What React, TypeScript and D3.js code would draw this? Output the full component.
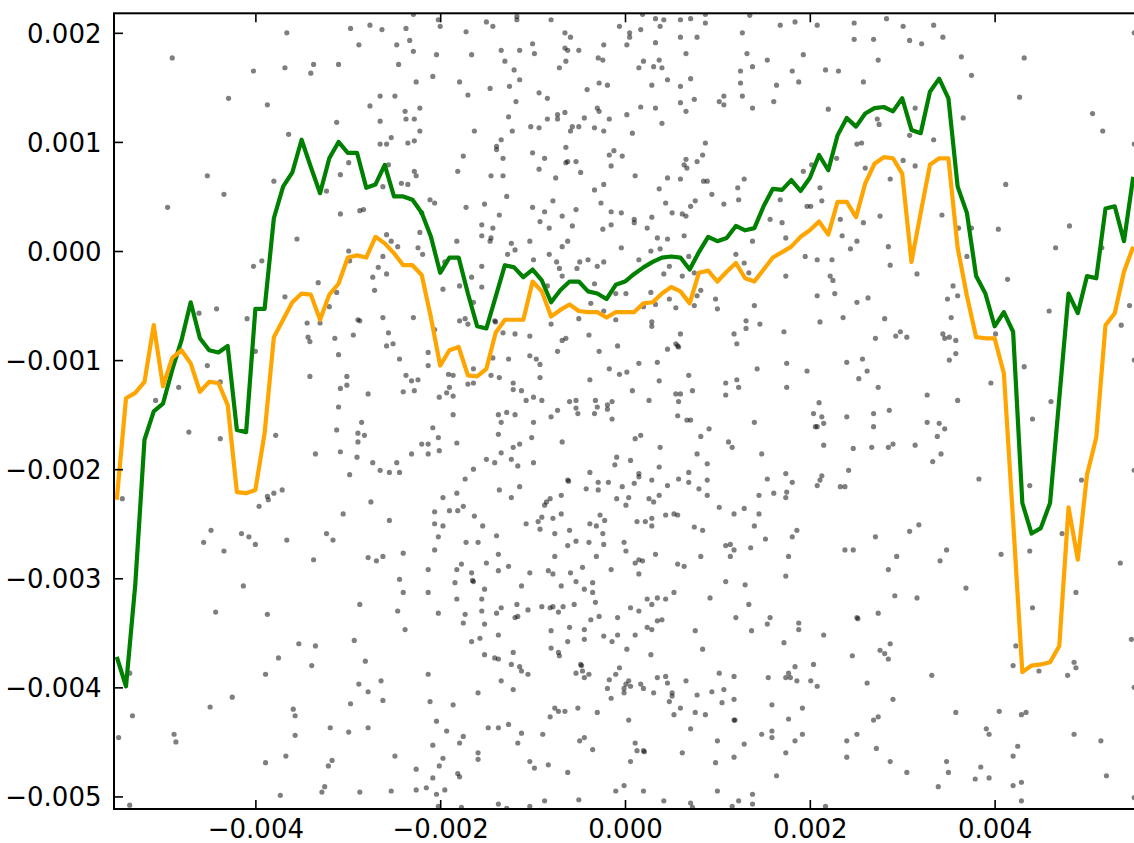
import React, { useEffect, useRef } from 'react';
import * as d3 from 'd3';

// all values below are in units of 1e-3
const gridX = [
  -5.5, -5.4, -5.3, -5.2, -5.1, -5.0, -4.9, -4.8, -4.7, -4.6,
  -4.5, -4.4, -4.3, -4.2, -4.1, -4.0, -3.9, -3.8, -3.7, -3.6,
  -3.5, -3.4, -3.3, -3.2, -3.1, -3.0, -2.9, -2.8, -2.7, -2.6,
  -2.5, -2.4, -2.3, -2.2, -2.1, -2.0, -1.9, -1.8, -1.7, -1.6,
  -1.5, -1.4, -1.3, -1.2, -1.1, -1.0, -0.9, -0.8, -0.7, -0.6,
  -0.5, -0.4, -0.3, -0.2, -0.1, 0.0, 0.1, 0.2, 0.3, 0.4,
  0.5, 0.6, 0.7, 0.8, 0.9, 1.0, 1.1, 1.2, 1.3, 1.4,
  1.5, 1.6, 1.7, 1.8, 1.9, 2.0, 2.1, 2.2, 2.3, 2.4,
  2.5, 2.6, 2.7, 2.8, 2.9, 3.0, 3.1, 3.2, 3.3, 3.4,
  3.5, 3.6, 3.7, 3.8, 3.9, 4.0, 4.1, 4.2, 4.3, 4.4,
  4.5, 4.6, 4.7, 4.8, 4.9, 5.0, 5.1, 5.2, 5.3, 5.4,
  5.5,
];

const greenY = [
  -3.72, -3.99, -3.06, -1.73, -1.47, -1.40, -1.09, -0.82, -0.47, -0.80,
  -0.91, -0.93, -0.87, -1.64, -1.66, -0.53, -0.53, 0.30, 0.59, 0.72,
  1.02, 0.77, 0.53, 0.85, 1.00, 0.90, 0.90, 0.58, 0.61, 0.79,
  0.50, 0.50, 0.47, 0.35, 0.13, -0.20, -0.06, -0.06, -0.39, -0.69,
  -0.71, -0.42, -0.13, -0.15, -0.24, -0.17, -0.27, -0.47, -0.36, -0.28,
  -0.28, -0.37, -0.39, -0.44, -0.31, -0.28, -0.21, -0.15, -0.10, -0.06,
  -0.05, -0.06, -0.17, -0.01, 0.13, 0.09, 0.12, 0.23, 0.19, 0.21,
  0.41, 0.57, 0.56, 0.65, 0.55, 0.67, 0.88, 0.74, 1.06, 1.22,
  1.14, 1.26, 1.31, 1.32, 1.28, 1.40, 1.11, 1.08, 1.46, 1.58,
  1.40, 0.59, 0.35, -0.23, -0.39, -0.69, -0.56, -0.74, -2.31, -2.59,
  -2.54, -2.31, -1.35, -0.39, -0.57, -0.23, -0.25, 0.39, 0.41, 0.09,
  0.68,
];

const orangeY = [
  -2.28, -1.35, -1.30, -1.20, -0.68, -1.24, -0.98, -0.91, -1.03, -1.29,
  -1.20, -1.21, -1.41, -2.21, -2.22, -2.19, -1.67, -0.79, -0.63, -0.47,
  -0.39, -0.40, -0.63, -0.40, -0.30, -0.06, -0.04, -0.06, 0.13, 0.07,
  -0.02, -0.13, -0.13, -0.22, -0.61, -1.05, -0.91, -0.88, -1.14, -1.15,
  -1.08, -0.75, -0.63, -0.63, -0.63, -0.28, -0.37, -0.60, -0.54, -0.49,
  -0.55, -0.56, -0.56, -0.61, -0.56, -0.56, -0.56, -0.48, -0.47, -0.39,
  -0.33, -0.37, -0.48, -0.20, -0.18, -0.28, -0.19, -0.11, -0.25, -0.28,
  -0.17, -0.06, -0.01, 0.04, 0.13, 0.19, 0.27, 0.15, 0.45, 0.45,
  0.31, 0.62, 0.80, 0.86, 0.85, 0.71, -0.10, 0.35, 0.79, 0.85,
  0.85, 0.03, -0.41, -0.79, -0.80, -0.80, -1.12, -2.47, -3.86, -3.80,
  -3.79, -3.77, -3.62, -2.35, -2.83, -2.05, -1.71, -0.68, -0.57, -0.19,
  0.04,
];

const scatter: [number, number][] = [
  // left upper
  [-4.90,1.77],[-3.66,2.00],[-2.97,2.04],[-2.88,1.89],[-4.02,1.65],[-3.68,1.68],[-3.40,1.63],[-3.37,1.71],[-3.10,1.71],[-4.29,1.40],
  [-3.87,1.34],[-3.12,1.18],[-3.64,1.07],[-2.99,0.81],[-3.08,0.70],[-4.52,0.69],[-3.80,0.64],[-4.34,0.52],[-3.23,0.55],[-4.95,0.40],
  [-3.08,0.34],[-2.87,0.37],[-2.83,0.38],[-3.55,0.11],[-2.99,0.00],[-2.98,-0.09],[-4.02,-0.14],[-3.93,-0.09],
  // left middle
  [-3.32,-0.29],[-3.68,-0.42],[-3.12,-0.38],[-3.20,-0.51],[-4.61,-0.57],[-4.42,-0.53],[-4.09,-0.62],[-3.44,-0.66],[-3.30,-0.66],[-2.89,-0.63],
  [-3.43,-0.79],[-3.41,-0.83],[-3.14,-0.80],[-2.94,-0.77],[-3.10,-0.95],[-4.00,-0.92],[-4.52,-1.05],[-4.38,-1.20],[-4.83,-1.25],[-5.08,-1.37],
  [-3.41,-1.15],[-3.01,-1.15],[-3.01,-1.23],[-3.08,-1.26],[-3.10,-1.43],[-4.72,-1.66],[-4.38,-1.72],[-3.78,-1.69],[-3.12,-1.64],[-2.89,-1.67],
  [-2.89,-1.75],[-3.35,-1.86],[-3.08,-1.84],[-2.90,-1.89],[-2.98,-2.05],[-5.44,-2.27],[-3.96,-2.34],[-3.87,-2.25],[-3.86,-2.28],[-3.80,-2.22],
  [-3.71,-2.19],[-3.05,-2.41],[-4.48,-2.56],[-4.15,-2.59],[-4.07,-2.62],[-3.66,-2.65],[-3.23,-2.59],[-3.16,-2.65],
  // left lower
  [-4.56,-2.67],[-4.34,-2.75],[-4.00,-2.69],[-3.37,-2.83],[-4.13,-3.07],[-4.43,-3.31],[-3.87,-3.33],[-2.87,-3.24],[-3.53,-3.60],[-3.35,-3.62],
  [-2.93,-3.57],[-3.75,-3.73],[-3.39,-3.80],[-2.81,-3.76],[-3.89,-3.88],[-5.36,-3.87],[-2.88,-3.97],[-4.25,-4.09],[-4.49,-4.18],[-2.97,-4.15],
  [-3.59,-4.20],[-3.57,-4.26],[-5.33,-4.26],[-5.48,-4.46],[-4.88,-4.43],[-4.86,-4.50],[-3.57,-4.44],[-3.19,-4.37],[-2.99,-4.41],[-2.78,-4.37],
  [-3.67,-4.63],[-3.89,-4.69],[-3.21,-4.72],[-3.17,-4.67],[-3.73,-4.99],[-3.28,-4.96],[-3.25,-4.91],[-2.87,-4.96],[-5.36,-5.08],[-2.78,-2.81],
  [-2.78,-4.04],
  // centre-left upper
  [-2.29,2.17],[-2.02,2.12],[-2.00,2.06],[-1.17,2.12],[-1.17,2.15],[-1.50,2.10],[-1.43,2.06],[-0.80,2.12],[-0.06,2.06],[-2.76,2.07],
  [-2.63,2.03],[-2.37,2.04],[-2.33,1.93],[-2.47,1.89],[-2.29,1.83],[-2.04,1.80],[-1.72,2.01],[-1.66,1.80],[-1.34,1.84],[-1.14,1.84],
  [-1.00,1.90],[-0.98,1.81],[-1.30,1.74],[-0.65,2.00],[-0.59,1.96],[-0.65,1.86],[-0.62,1.84],[-0.50,1.84],[-0.23,1.89],[-0.29,1.77],
  [-0.24,1.75],[-0.64,1.74],[-0.71,1.68],[-2.45,1.71],[-1.20,1.66],[-1.14,1.57],[-1.25,1.51],[-1.46,1.49],[-1.79,1.55],[-2.26,1.55],
  [-2.08,1.60],[-1.70,1.43],[-2.65,1.42],[-2.49,1.42],[-2.76,1.33],[-2.22,1.31],[-2.38,1.28],[-2.37,1.21],[-2.28,1.21],[-2.65,1.19],
  [-2.22,1.10],[-1.63,1.10],[-1.26,1.23],[-1.22,1.10],[-1.18,1.37],[-0.93,1.45],[-0.84,1.40],[-1.02,1.14],[-0.93,1.13],[-0.84,1.21],
  [-0.73,1.25],[-0.73,1.21],[-0.65,1.27],[-0.41,1.48],[-0.28,1.54],[-0.19,1.52],[-0.44,1.22],[-0.30,1.31],[-0.28,1.28],[-0.17,1.21],
  [-0.57,1.14],[-0.50,1.14],[-0.59,1.10],[-0.33,1.13],[-0.23,1.10],[-2.53,1.04],[-2.58,0.98],[-2.65,0.98],[-2.35,0.99],[-2.28,1.01],
  [-1.34,1.02],[-1.39,0.96],[-1.39,0.93],[-1.32,0.85],[-1.75,0.87],[-1.00,0.90],[-0.87,0.85],[-0.64,0.95],[-0.17,0.88],[-0.12,0.92],
  [-0.62,0.82],[-0.64,0.81],[-0.53,0.82],[-0.15,0.78],[-0.93,0.75],[-0.75,0.67],[-0.48,0.72],[-0.23,0.61],[-0.33,0.56],[-1.81,0.73],
  [-1.45,0.69],[-1.32,0.69],[-2.28,0.73],[-2.26,0.69],[-2.42,0.62],[-2.35,0.61],[-2.62,0.59],[-2.56,0.79],[-2.11,0.47],[-2.06,0.44],
  [-2.20,0.35],[-1.72,0.40],[-1.52,0.43],[-1.36,0.33],[-1.28,0.50],[-1.00,0.40],[-0.87,0.36],[-0.78,0.46],[-0.68,0.32],[-0.53,0.38],
  [-0.26,0.44],[-0.15,0.36],[-1.55,0.24],[-1.43,0.21],[-0.92,0.27],[-0.82,0.21],[-0.57,0.23],[-0.24,0.20],[-0.15,0.24],[-2.22,0.17],
  [-2.58,0.15],[-2.53,0.09],[-2.46,0.04],[-2.24,0.03],[-2.19,-0.03],[-2.62,-0.05],[-1.82,0.09],[-1.55,0.14],[-1.45,0.12],[-1.46,0.09],
  [-1.23,0.07],[-1.19,0.01],[-1.27,-0.03],[-1.03,0.09],[-0.82,-0.03],[-0.68,0.04],[-0.62,0.09],[-0.99,-0.08],[-0.74,-0.10],[-0.71,-0.16],
  [-0.52,-0.16],[-0.49,-0.10],[-0.40,-0.08],[-0.30,-0.14],[-0.23,-0.10],[-1.55,-0.14],[-2.67,-0.15],[-1.95,-0.10],
  // centre-left middle
  [-2.73,-0.24],[-2.58,-0.21],[-2.71,-0.36],[-1.66,-0.24],[-1.79,-0.32],[-1.55,-0.33],[-1.97,-0.35],[-1.64,-0.47],[-2.62,-0.61],[-2.29,-0.61],
  [-1.79,-0.64],[-1.73,-0.62],[-1.70,-0.67],[-1.41,-0.64],[-1.40,-0.65],[-2.56,-0.75],[-2.58,-0.87],[-2.51,-0.85],[-2.06,-0.72],[-1.32,-0.75],
  [-1.19,-0.76],[-1.03,-0.78],[-2.87,-0.64],[-2.13,-0.93],[-2.13,-1.05],[-2.44,-0.99],[-1.43,-0.98],[-1.26,-0.99],[-1.03,-0.96],[-0.96,-0.99],
  [-0.92,-1.04],[-0.92,-1.16],[-2.37,-1.14],[-2.31,-1.19],[-2.24,-1.18],[-2.28,-1.28],[-2.40,-1.29],[-2.78,-1.31],[-1.91,-1.13],[-1.86,-1.14],
  [-1.64,-1.08],[-1.70,-1.22],[-1.64,-1.21],[-1.45,-1.14],[-1.36,-1.16],[-1.21,-1.21],[-1.21,-1.27],[-1.12,-1.28],[-2.01,-1.34],[-1.93,-1.30],
  [-1.90,-1.25],[-1.86,-1.33],[-1.07,-1.37],[-0.99,-1.34],[-0.90,-1.37],[-1.86,-1.50],[-1.37,-1.50],[-1.28,-1.48],[-1.19,-1.50],[-1.34,-1.57],
  [-1.37,-1.68],[-0.99,-1.57],[-1.01,-1.71],[-2.85,-1.57],[-2.82,-1.69],[-2.08,-1.62],[-2.02,-1.71],[-2.20,-1.77],[-2.13,-1.77],[-2.31,-1.86],
  [-2.13,-1.86],[-2.01,-1.83],[-1.82,-1.76],[-1.34,-1.85],[-1.21,-1.80],[-1.14,-1.77],[-1.50,-1.91],[-1.41,-1.94],[-1.16,-1.97],[-1.23,-1.91],
  [-0.99,-1.94],[-2.73,-1.94],[-2.47,-1.94],[-2.65,-2.01],[-2.55,-2.03],[-2.44,-2.03],[-1.64,-2.00],[-1.73,-2.09],[-1.82,-2.22],[-1.97,-2.26],
  [-1.36,-2.19],[-1.23,-2.26],[-1.14,-2.16],[-2.75,-2.30],[-2.06,-2.39],[-1.90,-2.38],[-1.81,-2.38],[-1.75,-2.34],[-1.63,-2.43],[-2.55,-2.47],
  [-2.06,-2.50],[-1.97,-2.52],[-1.54,-2.52],[-2.02,-2.62],[-1.39,-2.61],[-1.07,-2.50],[-0.94,-2.48],[-0.90,-2.44],[-0.92,-2.55],[-0.87,-2.33],
  [-0.85,-2.30],[-0.81,-2.27],[-0.78,-2.45],[-0.69,-2.24],[-0.69,-2.41],[-0.60,-2.56],[-0.76,-2.59],[-0.24,-2.59],[-0.31,-2.52],[-0.27,-2.42],
  [-0.22,-2.47],[-0.38,-2.50],[-0.09,-2.27],[-0.42,-2.18],[-0.29,-2.19],[-0.29,-2.12],[-0.18,-2.12],[-0.38,-2.03],[-0.11,-1.96],[-0.09,-1.89],
  [-0.62,-2.10],[-0.61,-2.11],[-0.68,-1.75],[-0.80,-1.52],[-0.73,-1.46],[-0.60,-1.38],[-0.53,-1.37],[-0.51,-1.49],[-0.53,-1.44],[-0.33,-1.49],
  [-0.30,-1.43],[-0.32,-1.37],[-0.19,-1.41],[-0.19,-1.45],[-0.14,-1.38],[-0.14,-1.54],[-0.38,-1.18],[-0.17,-1.08],[-0.06,-1.13],[-0.28,-0.92],
  [-0.08,-0.87],[-0.73,-0.92],[-0.68,-0.82],[-0.64,-0.80],[-0.39,-0.77],[-0.10,-0.63],[-0.50,-0.62],[-0.80,-0.67],[-0.84,-0.32],[-0.68,-0.23],
  [-0.33,-0.30],[-0.10,-0.39],[-0.37,-0.48],[-0.23,-0.55],
  // centre-left lower
  [-1.72,-2.67],[-1.59,-2.67],[-2.06,-2.74],[-2.40,-2.77],[-2.62,-2.80],[-2.69,-2.84],[-2.13,-2.92],[-1.82,-2.92],[-1.77,-2.87],[-1.66,-2.95],
  [-1.50,-2.86],[-1.37,-2.78],[-1.37,-2.93],[-1.26,-2.89],[-1.03,-2.95],[-0.83,-2.93],[-0.78,-2.96],[-0.76,-2.80],[-0.62,-2.70],[-0.53,-2.66],
  [-0.39,-2.67],[-0.31,-2.80],[-0.23,-2.69],[-0.15,-2.92],[-0.59,-2.95],[-0.46,-2.90],[-2.44,-3.01],[-2.40,-3.13],[-2.13,-3.13],[-1.84,-3.04],
  [-1.65,-3.02],[-1.64,-3.03],[-1.52,-3.10],[-1.12,-3.07],[-0.69,-3.07],[-0.53,-3.03],[-0.35,-3.04],[-0.35,-3.13],[-0.44,-3.10],[-0.32,-3.22],
  [-1.82,-3.19],[-1.55,-3.19],[-2.46,-3.30],[-2.02,-3.32],[-1.73,-3.33],[-1.75,-3.41],[-1.55,-3.30],[-1.52,-3.42],[-1.39,-3.32],[-1.34,-3.27],
  [-1.17,-3.24],[-1.19,-3.36],[-1.16,-3.35],[-1.05,-3.29],[-0.90,-3.26],[-0.81,-3.27],[-0.78,-3.26],[-0.72,-3.31],[-0.67,-3.26],[-0.55,-3.24],
  [-0.37,-3.38],[-0.28,-3.35],[-0.08,-3.36],[-2.38,-3.47],[-1.66,-3.58],[-1.57,-3.55],[-1.37,-3.52],[-0.80,-3.48],[-0.60,-3.45],[-0.44,-3.47],
  [-0.62,-3.58],[-0.44,-3.56],[-0.23,-3.53],[-0.14,-3.58],[-0.08,-3.52],[-1.52,-3.70],[-1.41,-3.73],[-1.37,-3.74],[-1.21,-3.68],[-1.23,-3.79],
  [-1.14,-3.81],[-1.12,-3.85],[-1.05,-3.88],[-0.80,-3.64],[-0.72,-3.68],[-0.71,-3.71],[-0.48,-3.79],[-0.47,-3.80],[-0.46,-3.85],[-0.53,-3.87],
  [-0.44,-3.91],[-0.39,-3.88],[-0.17,-3.93],[-0.10,-3.88],[-0.06,-3.82],[-0.19,-4.01],[-0.15,-4.10],[-2.64,-3.94],[-2.62,-4.12],[-2.13,-3.88],
  [-1.59,-4.05],[-1.34,-3.94],[-1.21,-4.02],[-2.11,-4.13],[-1.86,-4.16],[-2.04,-4.31],[-1.93,-4.40],[-1.75,-4.45],[-1.79,-4.51],[-2.49,-4.63],
  [-2.08,-4.53],[-1.97,-4.65],[-2.01,-4.72],[-2.26,-4.75],[-2.08,-4.83],[-1.81,-4.79],[-1.79,-4.82],[-1.59,-4.60],[-1.59,-4.66],[-1.48,-4.37],
  [-1.37,-4.37],[-1.26,-4.34],[-1.12,-4.42],[-1.16,-4.51],[-0.89,-4.43],[-1.03,-4.68],[-0.98,-4.74],[-0.83,-4.71],[-0.76,-4.19],[-0.72,-4.22],
  [-0.65,-4.22],[-0.81,-4.27],[-0.51,-4.19],[-0.30,-4.23],[-0.49,-4.49],[-0.44,-4.46],[-0.35,-4.57],[-0.62,-4.78],[-2.53,-4.95],[-2.26,-4.94],
  [-2.15,-4.92],[-1.95,-4.94],[-2.04,-4.98],[-2.02,-5.09],[-1.77,-5.10],[-1.37,-5.07],[-1.28,-5.11],[-1.03,-5.09],[-0.87,-5.04],[-0.50,-5.03],
  [-0.10,-4.95],
  // centre-right upper
  [0.19,2.17],[0.33,2.13],[0.42,2.12],[0.60,2.12],[0.71,2.13],[0.87,2.17],[0.87,2.09],[1.35,2.16],[0.05,2.00],[0.05,1.96],
  [0.02,1.89],[0.17,2.03],[0.38,2.06],[0.33,1.91],[0.60,1.96],[0.78,1.96],[0.66,1.81],[0.20,1.74],[0.37,1.75],[0.15,1.68],
  [0.31,1.69],[0.40,1.68],[0.46,1.57],[0.29,1.52],[0.60,1.51],[0.71,1.58],[0.75,1.39],[0.60,1.36],[0.66,1.28],[0.17,1.32],
  [0.33,1.31],[0.02,1.25],[0.40,1.17],[0.08,1.08],[-0.03,0.87],[0.87,0.99],[0.84,0.88],[0.78,0.82],[0.66,0.84],[0.64,0.79],
  [0.67,0.76],[0.11,0.69],[0.46,0.67],[0.60,0.66],[0.85,0.64],[0.89,0.64],[0.37,0.57],[0.94,0.52],[0.76,0.46],[0.71,0.41],
  [0.44,0.44],[0.51,0.35],[0.62,0.34],[0.66,0.32],[0.10,0.29],[0.10,0.26],[0.29,0.31],[0.24,0.21],[0.35,0.12],[0.46,0.11],
  [0.64,0.14],[0.28,0.00],[0.38,0.02],[0.15,-0.08],[0.69,-0.05],[0.48,-0.14],[-0.04,0.35],[-0.04,0.03],[1.07,1.42],[1.02,1.37],
  [1.07,1.34],[1.27,2.00],[1.32,1.81],[1.38,1.69],[1.25,1.65],[1.25,1.54],[1.27,1.42],[1.38,1.31],[1.54,1.75],[1.61,1.37],
  [1.64,1.52],[1.68,2.07],[1.84,2.10],[1.81,1.65],[1.88,1.55],[1.93,1.80],[2.08,2.07],[2.17,1.66],[2.31,1.65],[2.48,2.09],
  [2.48,1.94],[2.69,1.94],[2.74,1.75],[2.58,1.55],[2.20,1.30],[2.73,1.21],[2.75,1.16],[2.51,0.98],[2.56,0.99],[2.29,0.85],
  [2.60,0.76],[1.93,0.73],[2.02,0.79],[2.11,0.58],[2.13,0.46],[1.97,0.41],[2.01,0.41],[1.68,0.47],[1.57,0.29],[1.70,0.26],
  [1.74,0.12],[1.38,0.09],[1.07,0.43],[1.22,0.58],[1.23,0.47],[1.29,0.66],[2.33,0.29],[2.58,0.26],[2.35,0.14],[2.51,0.09],
  [2.44,0.02],[1.95,-0.05],[2.08,-0.08],[2.24,-0.08],[1.20,-0.03],[1.29,-0.11],
  // centre-right middle
  [0.42,-0.21],[0.62,-0.23],[0.75,-0.20],[1.34,-0.20],[1.74,-0.23],[2.22,-0.23],[2.25,-0.27],[0.01,-0.39],[0.28,-0.38],[0.48,-0.44],
  [0.33,-0.49],[0.20,-0.51],[0.55,-0.52],[0.75,-0.50],[0.78,-0.41],[0.82,-0.36],[0.98,-0.44],[1.00,-0.53],[1.40,-0.50],[2.08,-0.41],
  [2.27,-0.39],[2.51,-0.47],[2.63,-0.43],[0.29,-0.65],[0.29,-0.69],[0.60,-0.76],[0.46,-0.90],[0.55,-0.85],[0.57,-0.87],[0.58,-0.88],
  [1.18,-0.76],[1.21,-0.85],[1.31,-0.64],[1.31,-0.71],[1.46,-0.67],[1.72,-0.74],[2.11,-0.65],[2.36,-0.61],[2.71,-0.80],[0.15,-1.03],
  [0.35,-1.02],[0.69,-1.14],[0.37,-1.19],[0.08,-1.28],[0.02,-1.11],[0.26,-1.37],[0.55,-1.31],[0.60,-1.31],[0.73,-1.28],[0.58,-1.38],
  [0.57,-1.51],[0.67,-1.55],[0.71,-1.55],[0.91,-1.63],[0.82,-1.70],[0.78,-1.86],[0.38,-1.80],[0.11,-1.72],[0.17,-1.69],[0.06,-1.92],
  [0.37,-1.98],[0.15,-2.04],[0.15,-2.07],[0.10,-2.13],[0.29,-2.10],[-0.03,-2.16],[0.04,-2.26],[0.01,-2.33],[0.26,-2.27],[0.31,-2.30],
  [0.37,-2.24],[0.46,-2.15],[0.58,-2.09],[0.69,-2.03],[0.69,-2.12],[0.80,-2.18],[0.89,-2.10],[0.89,-2.24],[0.89,-1.95],[0.44,-2.42],
  [0.53,-2.41],[0.57,-2.42],[0.13,-2.48],[0.22,-2.48],[0.29,-2.45],[0.29,-2.52],[0.75,-2.53],[0.84,-2.56],[1.02,-2.35],[1.18,-2.41],
  [1.29,-2.36],[1.45,-2.41],[1.40,-2.52],[1.52,-2.64],[1.09,-1.21],[1.09,-1.32],[1.21,-1.18],[1.23,-1.25],[1.12,-1.75],[1.16,-1.80],
  [1.40,-1.57],[1.48,-1.86],[1.43,-1.08],[1.75,-1.03],[1.75,-1.25],[1.97,-1.10],[2.10,-1.39],[2.04,-1.49],[2.13,-1.52],[2.15,-1.58],
  [2.06,-1.61],[2.08,-1.61],[2.15,-1.78],[2.47,-1.81],[2.40,-1.52],[2.40,-1.02],[2.57,-0.99],[2.62,-1.10],[2.53,-1.17],[2.74,-1.25],
  [2.69,-1.49],[2.69,-1.61],[2.67,-1.80],[2.42,-2.01],[2.13,-2.06],[2.11,-2.10],[2.08,-2.15],[2.33,-2.16],[2.38,-2.16],[1.74,-2.04],
  [1.81,-2.12],[1.75,-2.21],[1.74,-2.26],[1.61,-2.22],[1.54,-2.09],[1.45,-2.24],[1.86,-2.56],[1.81,-2.62],[2.71,-2.62],
  // centre-right lower
  [-0.01,-2.67],[0.01,-2.75],[0.11,-2.86],[0.15,-2.83],[0.19,-2.84],[0.15,-2.96],[0.33,-2.78],[0.57,-2.87],[0.64,-2.89],[0.82,-2.80],
  [1.09,-2.70],[1.14,-2.69],[1.18,-2.74],[1.14,-2.80],[1.36,-2.72],[1.77,-2.80],[1.74,-2.98],[2.38,-2.74],[2.47,-2.74],[1.09,-3.03],
  [1.30,-3.06],[1.34,-3.24],[0.92,-3.18],[0.53,-3.13],[0.44,-3.19],[0.35,-3.18],[0.29,-3.24],[0.24,-3.19],[0.06,-3.27],[0.15,-3.30],
  [0.35,-3.39],[0.40,-3.38],[0.24,-3.45],[0.29,-3.47],[0.11,-3.52],[0.76,-3.48],[1.20,-3.36],[1.37,-3.48],[1.54,-3.42],[1.57,-3.36],
  [1.88,-3.41],[1.88,-3.47],[2.15,-3.52],[1.72,-3.59],[0.02,-3.65],[0.28,-3.70],[0.84,-3.65],[0.01,-3.97],[0.04,-3.94],[-0.01,-4.01],
  [-0.01,-4.05],[0.06,-3.99],[0.17,-3.97],[0.20,-4.01],[0.31,-4.05],[0.35,-3.91],[0.44,-3.90],[0.46,-3.96],[0.51,-4.05],[0.51,-4.08],
  [0.48,-4.13],[0.66,-3.94],[0.78,-4.07],[0.94,-4.04],[1.02,-3.87],[1.07,-4.02],[1.05,-4.14],[1.18,-3.90],[1.18,-4.11],[1.18,-4.30],
  [1.19,-4.30],[0.60,-4.19],[0.53,-4.25],[0.76,-4.23],[0.87,-4.25],[0.71,-4.38],[0.04,-4.30],[0.11,-4.51],[0.13,-4.58],[0.20,-4.58],
  [0.21,-4.59],[0.06,-4.68],[0.62,-4.60],[1.00,-4.49],[0.98,-4.69],[1.18,-4.64],[1.29,-4.52],[1.48,-4.43],[1.59,-4.40],[1.59,-4.46],
  [1.55,-3.91],[1.59,-4.16],[1.74,-3.91],[1.77,-3.87],[1.79,-3.91],[1.84,-3.81],[1.86,-3.94],[1.92,-4.19],[1.77,-4.29],[1.84,-4.49],
  [1.92,-4.43],[1.74,-4.60],[1.64,-4.81],[2.01,-3.94],[2.04,-3.79],[2.08,-3.99],[2.46,-3.71],[2.62,-3.96],[2.69,-4.30],[2.74,-4.27],
  [2.72,-4.56],[2.40,-4.49],[2.40,-4.64],[2.51,-4.43],[2.51,-3.36],[2.52,-3.37],[2.74,-3.32],[-0.01,-4.90],[0.20,-4.95],[0.42,-5.04],
  [0.71,-5.06],[0.73,-5.10],[1.00,-4.95],[1.16,-5.09],[1.23,-5.04],[1.38,-4.98],[1.38,-5.07],[2.17,-5.09],
  // right upper
  [2.83,2.13],[3.01,2.06],[3.34,2.07],[3.08,1.93],[3.21,1.90],[3.44,1.96],[3.64,1.78],[3.75,1.61],[4.32,1.77],[4.27,1.41],
  [3.14,1.31],[3.08,1.06],[3.34,1.02],[3.66,1.22],[3.01,0.83],[3.14,0.78],[2.87,0.66],[2.76,0.32],[3.43,0.33],[3.61,0.21],
  [3.75,0.21],[4.04,0.20],[4.12,0.61],[2.85,0.04],[2.87,-0.13],[3.70,-0.05],[4.66,0.03],[4.81,0.23],[5.06,1.26],[5.17,1.10],
  [5.16,0.03],[5.51,2.00],[5.51,0.98],
  // right middle
  [3.16,-0.21],[3.55,-0.32],[3.60,-0.41],[3.49,-0.44],[4.14,-0.26],[4.59,-0.55],[2.81,-0.62],[3.53,-0.61],[2.93,-0.78],[2.98,-0.74],
  [3.05,-0.79],[3.44,-0.76],[3.46,-0.80],[3.51,-0.79],[3.58,-0.82],[3.58,-0.94],[3.51,-1.00],[4.01,-0.76],[4.32,-1.06],[3.96,-1.21],
  [3.27,-1.32],[3.60,-1.37],[2.86,-1.46],[3.27,-1.57],[3.40,-1.58],[3.46,-1.63],[3.38,-1.70],[4.61,-1.38],[4.41,-1.54],[2.85,-1.80],
  [2.90,-1.77],[3.14,-1.78],[3.42,-1.86],[3.33,-1.93],[3.83,-2.09],[4.38,-2.15],[4.94,-2.10],[5.46,-0.50],[5.37,-0.68],[5.51,-1.00],
  [5.51,-2.01],[3.08,-2.57],[3.18,-2.51],[4.73,-2.59],
  // right lower
  [2.94,-2.80],[3.48,-2.74],[3.41,-2.84],[2.85,-2.92],[2.92,-3.16],[3.16,-3.18],[3.69,-3.09],[4.07,-2.78],[4.38,-2.75],[4.41,-3.27],
  [4.88,-3.13],[5.36,-2.86],[2.87,-3.60],[2.76,-3.66],[2.81,-3.69],[2.85,-3.74],[3.32,-3.89],[4.20,-3.80],[4.23,-3.62],[4.48,-3.85],
  [4.79,-3.89],[4.86,-3.77],[4.88,-3.82],[5.48,-3.56],[2.90,-4.11],[3.58,-4.23],[4.05,-4.22],[4.29,-4.25],[4.34,-4.23],[3.91,-4.38],
  [3.94,-4.43],[4.25,-4.54],[4.20,-4.63],[4.86,-4.43],[5.15,-4.49],[2.87,-4.68],[3.05,-4.78],[3.48,-4.68],[3.50,-4.78],[3.39,-4.91],
  [3.79,-4.84],[3.85,-4.73],[3.94,-4.83],[4.20,-4.90],[4.29,-4.87],[4.29,-5.04],[5.21,-4.81],[5.51,-4.00],[5.51,-5.01],
];

const xTicks = [-0.004, -0.002, 0, 0.002, 0.004];
const xTickLabels = ['\u22120.004', '\u22120.002', '0.000', '0.002', '0.004'];
const yTicks = [-0.005, -0.004, -0.003, -0.002, -0.001, 0, 0.001, 0.002];
const yTickLabels = ['\u22120.005', '\u22120.004', '\u22120.003', '\u22120.002', '\u22120.001', '0.000', '0.001', '0.002'];

const W = 1134;
const H = 843;

export default function App() {
  const svgRef = useRef<SVGSVGElement>(null);

  useEffect(() => {
    const svg = d3.select(svgRef.current);
    svg.selectAll('*').remove();

    const left = 114, right = 1136, top = 13.3, bottom = 809;
    const x = d3.scaleLinear().domain([-0.00553, 0.00553]).range([left, right]);
    const y = d3.scaleLinear().domain([-0.005115, 0.002179]).range([bottom, top]);

    svg.append('rect').attr('width', W).attr('height', H).attr('fill', '#fff');

    svg.append('defs').append('clipPath').attr('id', 'plot-clip')
      .append('rect')
      .attr('x', left).attr('y', top)
      .attr('width', right - left).attr('height', bottom - top);

    const plot = svg.append('g').attr('clip-path', 'url(#plot-clip)');

    // scatter
    plot.append('g')
      .selectAll('circle')
      .data(scatter)
      .enter().append('circle')
      .attr('cx', d => x(d[0] * 1e-3))
      .attr('cy', d => y(d[1] * 1e-3))
      .attr('r', 2.6)
      .attr('fill', '#000')
      .attr('fill-opacity', 0.5);

    const line = d3.line<number>()
      .x((_, i) => x(gridX[i] * 1e-3))
      .y(d => y(d * 1e-3));

    plot.append('path')
      .datum(greenY)
      .attr('d', line)
      .attr('fill', 'none')
      .attr('stroke', '#008000')
      .attr('stroke-width', 4.2)
      .attr('stroke-linejoin', 'round');

    plot.append('path')
      .datum(orangeY)
      .attr('d', line)
      .attr('fill', 'none')
      .attr('stroke', '#ffa500')
      .attr('stroke-width', 4.2)
      .attr('stroke-linejoin', 'round');

    const font = "'DejaVu Sans', sans-serif";
    const tickLen = 9;

    // bottom axis
    const xAxis = svg.append('g')
      .attr('transform', `translate(0,${bottom})`)
      .call(d3.axisBottom(x).tickValues(xTicks)
        .tickFormat((_, i) => xTickLabels[i])
        .tickSizeInner(-tickLen).tickSizeOuter(0).tickPadding(10.5));
    xAxis.select('.domain').remove();

    // top axis ticks
    const xTop = svg.append('g')
      .attr('transform', `translate(0,${top})`)
      .call(d3.axisTop(x).tickValues(xTicks).tickFormat(() => '')
        .tickSizeInner(-tickLen).tickSizeOuter(0));
    xTop.select('.domain').remove();

    // left axis
    const yAxis = svg.append('g')
      .attr('transform', `translate(${left},0)`)
      .call(d3.axisLeft(y).tickValues(yTicks)
        .tickFormat((_, i) => yTickLabels[i])
        .tickSizeInner(-tickLen).tickSizeOuter(0).tickPadding(12.5));
    yAxis.select('.domain').remove();
    yAxis.selectAll('text').attr('dy', '0.36em');

    svg.selectAll('.tick line').attr('stroke', '#000').attr('stroke-width', 1.6);
    svg.selectAll('.tick text')
      .attr('fill', '#000')
      .style('font-family', font)
      .style('font-size', '26px');

    // frame
    svg.append('rect')
      .attr('x', left).attr('y', top)
      .attr('width', right - left).attr('height', bottom - top)
      .attr('fill', 'none')
      .attr('stroke', '#000')
      .attr('stroke-width', 2);
  }, []);

  return (
    <svg
      ref={svgRef}
      width={W}
      height={H}
      style={{ position: 'absolute', left: 0, top: 0, display: 'block' }}
    />
  );
}
